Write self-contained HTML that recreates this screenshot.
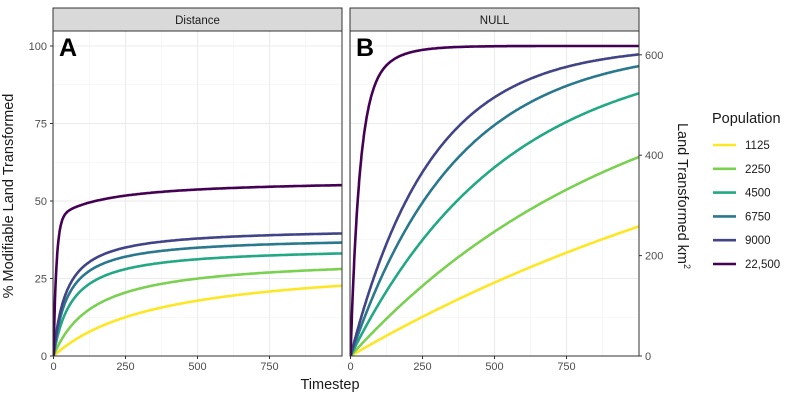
<!DOCTYPE html>
<html><head><meta charset="utf-8"><style>body{margin:0;background:#fff}svg{font-family:"Liberation Sans",sans-serif}</style></head>
<body>
<svg id="s" width="800" height="400" xmlns="http://www.w3.org/2000/svg">
<rect width="800" height="400" fill="#fff"/>
<g id="g"></g>
<text x="13" y="196" transform="rotate(-90 13 196)" text-anchor="middle" font-size="14.5" fill="#1a1a1a">% Modifiable Land Transformed</text>
<text x="330" y="389" text-anchor="middle" font-size="14.5" fill="#1a1a1a">Timestep</text>
<text x="678" y="196" transform="rotate(90 678 196)" text-anchor="middle" font-size="14.5" fill="#1a1a1a">Land Transformed km<tspan font-size="9" dy="-6">2</tspan></text>
<text x="712" y="123" font-size="14.5" fill="#1a1a1a">Population</text>
</svg>
<script>
const g=document.getElementById('g');let h='';
const X0=[53,350],W=289,T=31,B=356;
const cols=['#fde725','#7ad151','#22a884','#2a788e','#414487','#440154'];
const tx=(p,t)=>X0[p]+0.5+t*0.288, ty=v=>356-v*3.1;
for(let p=0;p<2;p++){const x0=X0[p];
 h+=`<rect x="${x0}" y="${T}" width="${W}" height="${B-T}" fill="#fff"/>`;
 for(let t=125;t<1000;t+=250)h+=`<line x1="${tx(p,t)}" x2="${tx(p,t)}" y1="${T}" y2="${B}" stroke="#f2f2f2" stroke-width="0.6"/>`;
 for(let v=12.5;v<110;v+=25)h+=`<line x1="${x0}" x2="${x0+W}" y1="${ty(v)}" y2="${ty(v)}" stroke="#f2f2f2" stroke-width="0.6"/>`;
 for(let t=0;t<1000;t+=250)h+=`<line x1="${tx(p,t)}" x2="${tx(p,t)}" y1="${T}" y2="${B}" stroke="#ebebeb" stroke-width="1.1"/>`;
 for(let v=0;v<=100;v+=25)h+=`<line x1="${x0}" x2="${x0+W}" y1="${ty(v)}" y2="${ty(v)}" stroke="#ebebeb" stroke-width="1.1"/>`;
 for(let t=0;t<1000;t+=250){h+=`<line x1="${tx(p,t)}" x2="${tx(p,t)}" y1="${B}" y2="${B+3}" stroke="#333"/><text x="${tx(p,t)}" y="${B+14}" text-anchor="middle" font-size="11" fill="#4d4d4d">${t}</text>`;}
}
const fA=[t=>31.1*t/(t+371),t=>32*t/(t+140.7),t=>35.2*t/(t+64),t=>38.4*t/(t+49.7),t=>41.3*t/(t+45),t=>44*(1-Math.exp(-t/10))+13*t/(t+170)];
const tau=[1850,975,533,366,278];
const fB=(i,t)=>i<5?100*(1-Math.exp(-t/tau[i])):100*(0.8*(1-Math.exp(-t/30))+0.2*(1-Math.exp(-t/90)));
for(let p=0;p<2;p++)for(let i=0;i<6;i++){let d='';for(let t=0;t<=1005;t+=(t<100?1:5)){const v=p==0?fA[i](t):fB(i,t);d+=(t?'L':'M')+tx(p,t).toFixed(1)+','+ty(v).toFixed(1);}
 h+=`<path d="${d}" fill="none" stroke="${cols[i]}" stroke-width="2.6" clip-path="url(#c${p})"/>`;}
h+=`<defs><clipPath id="c0"><rect x="53" y="31" width="289" height="325"/></clipPath><clipPath id="c1"><rect x="350" y="31" width="289" height="325"/></clipPath></defs>`;
for(let p=0;p<2;p++){const x0=X0[p];
 h+=`<rect x="${x0}" y="${T}" width="${W}" height="${B-T}" fill="none" stroke="#333" stroke-width="1"/>`;
 h+=`<rect x="${x0}" y="8" width="${W}" height="23" fill="#d9d9d9" stroke="#333" stroke-width="1"/>`;
 h+=`<text x="${x0+W/2}" y="24" text-anchor="middle" font-size="11.5" fill="#1a1a1a">${p?'NULL':'Distance'}</text>`;
 h+=`<text x="${x0+6}" y="56" font-size="25" font-weight="bold" fill="#000">${p?'B':'A'}</text>`;}
for(let v=0;v<=100;v+=25)h+=`<line x1="50" x2="53" y1="${ty(v)}" y2="${ty(v)}" stroke="#333"/><text x="47" y="${ty(v)+4}" text-anchor="end" font-size="11" fill="#4d4d4d">${v}</text>`;
for(let k=0;k<=600;k+=200){const y=356-k*0.502;h+=`<line x1="639" x2="642" y1="${y}" y2="${y}" stroke="#333"/><text x="645" y="${y+4}" font-size="11" fill="#4d4d4d">${k}</text>`;}
const labs=['1125','2250','4500','6750','9000','22,500'];
for(let i=0;i<6;i++){const y=145+i*23.8;h+=`<line x1="713" x2="736" y1="${y}" y2="${y}" stroke="${cols[i]}" stroke-width="2.6"/><text x="745" y="${y+4}" font-size="11.5" fill="#1a1a1a">${labs[i]}</text>`;}
g.innerHTML=h;
</script>
</body></html>
